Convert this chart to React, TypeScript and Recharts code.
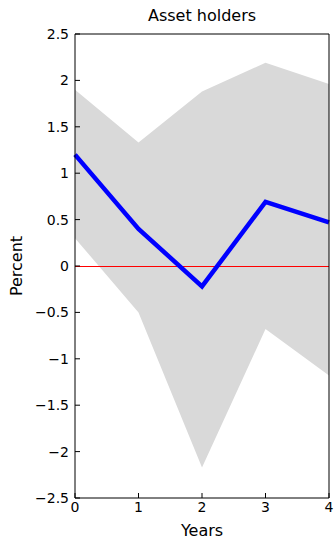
import { ComposedChart, Area, Line, XAxis, YAxis, ReferenceLine } from "recharts";

const years = [0, 1, 2, 3, 4];
const response = [1.2, 0.4, -0.22, 0.69, 0.47];
const bandLow = [0.3, -0.5, -2.17, -0.68, -1.18];
const bandHigh = [1.9, 1.33, 1.88, 2.19, 1.96];
const yTicks = [-2.5, -2, -1.5, -1, -0.5, 0, 0.5, 1, 1.5, 2, 2.5];
const xTicks = [0, 1, 2, 3, 4];

const FONT = "'DejaVu Sans', sans-serif";

const data = years.map((y, i) => ({
  year: y,
  band: [bandLow[i], bandHigh[i]],
  response: response[i],
}));

const fmt = (v: number) => String(v).replace("-", "\u2212");
const tickStyle = { fontSize: 14, fill: "#000", fontFamily: FONT };

export default function App() {
  return (
    <div>
      <style>{"body{margin:0}"}</style>
      <ComposedChart
        width={334}
        height={543}
        data={data}
        margin={{ top: 33, right: 0, bottom: 0, left: 0 }}
      >
        <XAxis
          xAxisId="bottom"
          dataKey="year"
          type="number"
          domain={[0, 4]}
          ticks={xTicks}
          height={45}
          tickSize={-5}
          tickMargin={9}
          stroke="#000"
          tick={tickStyle}
          label={{
            value: "Years",
            position: "insideBottom",
            offset: 7,
            style: { fontSize: 16, fill: "#000", fontFamily: FONT },
          }}
        />
        <XAxis
          xAxisId="top"
          orientation="top"
          dataKey="year"
          type="number"
          domain={[0, 4]}
          ticks={xTicks}
          height={1}
          tickSize={-5}
          tick={false}
          stroke="#000"
          label={{
            content: (p: any) => (
              <text
                x={p.viewBox.x + p.viewBox.width / 2}
                y={21}
                textAnchor="middle"
                fontSize={16}
                fontFamily={FONT}
                fill="#000"
              >
                Asset holders
              </text>
            ),
          }}
        />
        <YAxis
          yAxisId="left"
          type="number"
          domain={[-2.5, 2.5]}
          ticks={yTicks}
          width={75}
          tickSize={-5}
          tickMargin={11}
          tickFormatter={fmt}
          stroke="#000"
          tick={tickStyle}
          label={{
            content: (p: any) => {
              const cx = 16;
              const cy = p.viewBox.y + p.viewBox.height / 2;
              return (
                <text
                  x={cx}
                  y={cy}
                  transform={`rotate(-90 ${cx} ${cy})`}
                  textAnchor="middle"
                  dominantBaseline="central"
                  fontSize={16}
                  fontFamily={FONT}
                  fill="#000"
                >
                  Percent
                </text>
              );
            },
          }}
        />
        <YAxis
          yAxisId="right"
          orientation="right"
          type="number"
          domain={[-2.5, 2.5]}
          ticks={yTicks}
          width={5}
          tickSize={-5}
          tick={false}
          stroke="#000"
        />
        <Area
          xAxisId="bottom"
          yAxisId="left"
          dataKey="band"
          type="linear"
          fill="#d9d9d9"
          fillOpacity={1}
          stroke="none"
          isAnimationActive={false}
        />
        <ReferenceLine
          xAxisId="bottom"
          yAxisId="left"
          y={0}
          stroke="#ff0000"
          strokeWidth={1}
          shapeRendering="crispEdges"
        />
        <Line
          xAxisId="bottom"
          yAxisId="left"
          dataKey="response"
          type="linear"
          stroke="#0000ff"
          strokeWidth={4.5}
          dot={false}
          isAnimationActive={false}
        />
      </ComposedChart>
    </div>
  );
}
